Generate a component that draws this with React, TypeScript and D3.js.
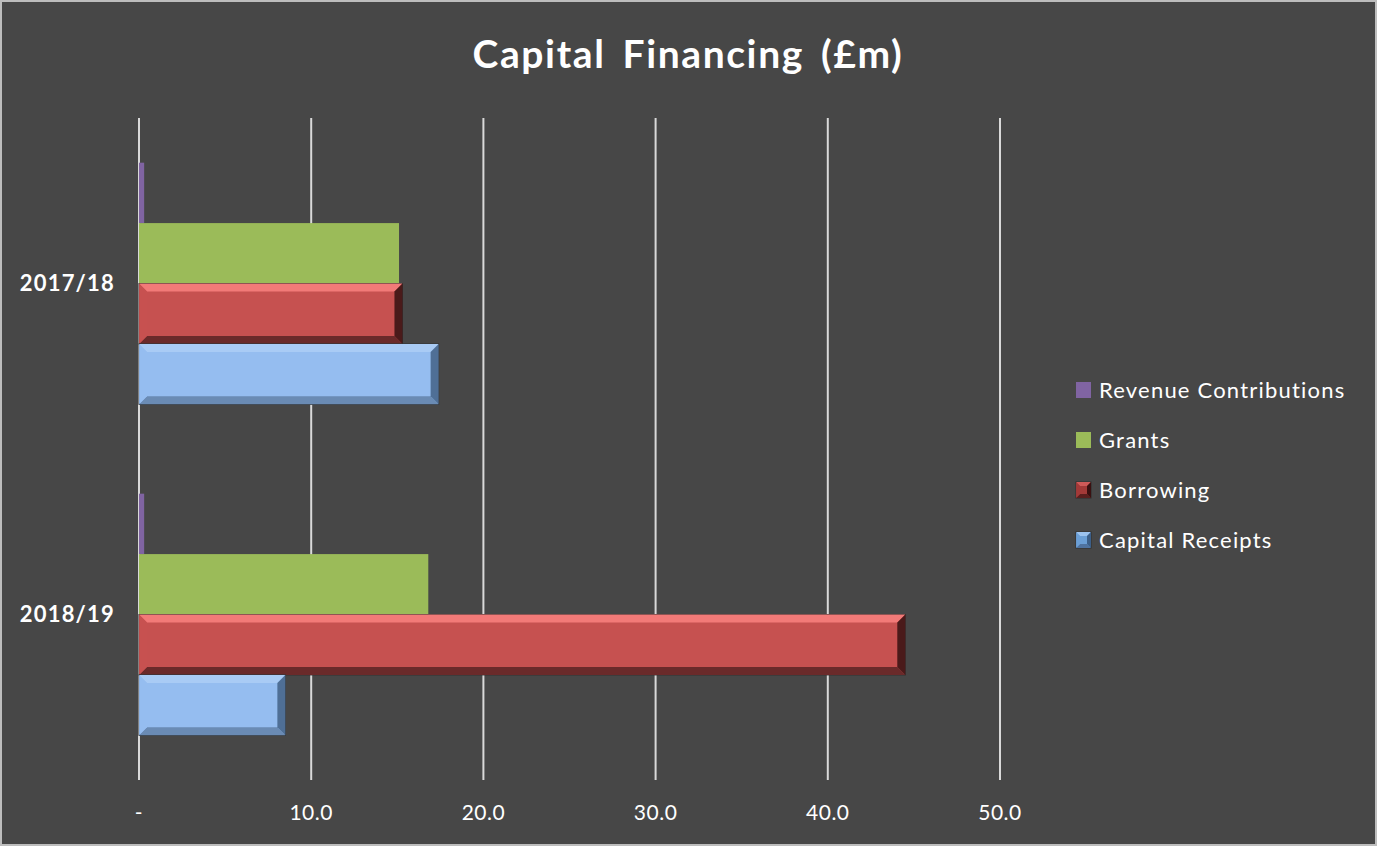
import React from "react";
import * as d3 from "d3";

const categories = ["2017/18", "2018/19"];
const seriesNames = ["Revenue Contributions", "Grants", "Borrowing", "Capital Receipts"];
const revenueValues = [0.3, 0.3];
const grantsValues = [15.1, 16.8];
const borrowingValues = [15.3, 44.5];
const receiptsValues = [17.4, 8.5];
const xTicks = [0, 10, 20, 30, 40, 50];
const seriesColors = ["#8064a2", "#9bbb59", "#c0504d", "#8fbbef"];
const seriesBevel = [false, false, true, true];

const W = 1377, H = 846;
const FONT = "Lato, 'Open Sans', sans-serif";

function Bevel({ x, y, w, h, base, light, dark, darker }: any) {
  const b = Math.min(8, w / 2, h / 4);
  return (
    <g>
      <rect x={x} y={y} width={w} height={h} fill={base} stroke="#2e2e2e" strokeWidth={1} />
      <polygon points={`${x},${y} ${x + w},${y} ${x + w - b},${y + b} ${x + b},${y + b}`} fill={light} />
      <polygon points={`${x},${y + h} ${x + w},${y + h} ${x + w - b},${y + h - b} ${x + b},${y + h - b}`} fill={darker} />
      <polygon points={`${x + w},${y} ${x + w},${y + h} ${x + w - b},${y + h - b} ${x + w - b},${y + b}`} fill={dark} />
      <polygon points={`${x},${y} ${x},${y + h} ${x + b},${y + h - b} ${x + b},${y + b}`} fill={base} opacity={0.9} />
    </g>
  );
}

export default function App() {
  const x = d3.scaleLinear().domain([0, 50]).range([139, 1000]);
  const y = d3.scaleBand().domain(categories).range([118, 780]).paddingInner(0.27).paddingOuter(0.135);
  const inner = d3.scaleBand().domain(seriesNames).range([0, y.bandwidth()]);
  const data = [revenueValues, grantsValues, borrowingValues, receiptsValues];

  return (
    <svg width={W} height={H} style={{ position: "fixed", left: 0, top: 0, fontFamily: FONT }}>
      <rect x={0} y={0} width={W} height={H} fill="#474747" />
      <rect x={1} y={1} width={W - 2} height={H - 2} fill="none" stroke="#bdbdbd" strokeWidth={2} />
      <text x={688} y={68} textAnchor="middle" fill="#ffffff" fontSize={39} fontWeight="bold" letterSpacing={1.6} wordSpacing={6}>
        Capital Financing (£m)
      </text>
      {xTicks.map((t) => (
        <g key={t}>
          <line x1={x(t)} x2={x(t)} y1={118} y2={780} stroke="#d9d9d9" strokeWidth={2} />
          <text x={x(t)} y={820} textAnchor="middle" fill="#ffffff" fontSize={21} letterSpacing={0.5}>
            {t === 0 ? "-" : d3.format(".1f")(t)}
          </text>
        </g>
      ))}
      {categories.map((c, ci) => (
        <g key={c}>
          <text x={115} y={y(c)! + y.bandwidth() / 2 + 7} textAnchor="end" fill="#ffffff" fontSize={22} fontWeight="bold" letterSpacing={1.2}>
            {c}
          </text>
          {seriesNames.map((s, si) => {
            const by = y(c)! + inner(s)!;
            const bh = inner.bandwidth();
            const bw = x(data[si][ci]) - x(0);
            if (seriesBevel[si]) {
              return si === 2 ? (
                <Bevel key={s} x={x(0)} y={by} w={bw} h={bh} base="#c65150" light="#f27a78" dark="#4a1a1a" darker="#6a2a2a" />
              ) : (
                <Bevel key={s} x={x(0)} y={by} w={bw} h={bh} base="#95bdf0" light="#a9cbf5" dark="#4f6f96" darker="#6a8bb4" />
              );
            }
            return <rect key={s} x={x(0)} y={by} width={bw} height={bh} fill={seriesColors[si]} />;
          })}
        </g>
      ))}
      {seriesNames.map((s, i) => (
        <g key={s} transform={`translate(1076, ${390 + i * 50})`}>
          {seriesBevel[i] ? (
            <Bevel x={0} y={-8} w={15} h={16} base={i === 2 ? "#a33a38" : "#6b9fd6"} light={i === 2 ? "#d05a58" : "#9cc3ef"} dark={i === 2 ? "#3a1010" : "#3c5f88"} darker={i === 2 ? "#5a1f1e" : "#4f73a0"} />
          ) : (
            <rect x={0} y={-8} width={15} height={16} fill={seriesColors[i]} />
          )}
          <text x={23} y={8} fill="#ffffff" fontSize={22} letterSpacing={1.2}>{s}</text>
        </g>
      ))}
    </svg>
  );
}
